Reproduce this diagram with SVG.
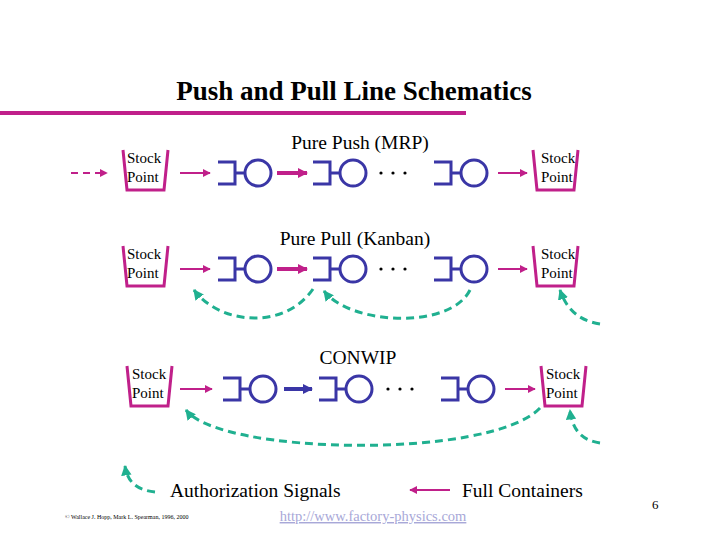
<svg xmlns="http://www.w3.org/2000/svg" width="720" height="540" viewBox="0 0 720 540">
<defs>
<marker id="am" viewBox="0 0 10 10" refX="9" refY="5" markerWidth="4" markerHeight="4" orient="auto"><path d="M0,0L10,5L0,10z" fill="#c0208a"/></marker>
<marker id="am2" viewBox="0 0 10 10" refX="9" refY="5" markerWidth="2.5" markerHeight="2.5" orient="auto"><path d="M0,0L10,5L0,10z" fill="#c0208a"/></marker>
<marker id="ab" viewBox="0 0 10 10" refX="9" refY="5" markerWidth="2.5" markerHeight="2.5" orient="auto"><path d="M0,0L10,5L0,10z" fill="#3a36a6"/></marker>
<marker id="ag" viewBox="0 0 10 10" refX="9" refY="5" markerWidth="3.5" markerHeight="3.5" orient="auto"><path d="M0,0L10,5L0,10z" fill="#20b090"/></marker>
<g id="st"><path d="M-17,-11H0V11H-17M0,0H10" fill="none" stroke="#3a36a6" stroke-width="3"/><circle cx="23" cy="0" r="13" fill="none" stroke="#3a36a6" stroke-width="3"/></g>
<path id="bk" d="M0,0L4,40H41L45,0" fill="none" stroke="#c0208a" stroke-width="3"/>
</defs>
<style>
.s{font-family:"Liberation Serif",serif;font-size:15px;fill:#000}
.t{font-family:"Liberation Serif",serif;font-size:19.5px;fill:#000}
.m{stroke:#c0208a;stroke-width:2;fill:none;marker-end:url(#am)}
.mt{stroke:#c0208a;stroke-width:4;fill:none;marker-end:url(#am2)}
.bt{stroke:#3a36a6;stroke-width:4;fill:none;marker-end:url(#ab)}
.g{stroke:#20b090;stroke-width:3;fill:none;stroke-dasharray:8,5;marker-end:url(#ag)}
.d{fill:#000}
</style>
<rect width="720" height="540" fill="#fff"/>
<text x="354" y="100" text-anchor="middle" style="font-family:'Liberation Serif',serif;font-size:27px;font-weight:bold">Push and Pull Line Schematics</text>
<line x1="0" y1="113" x2="466" y2="113" stroke="#c0208a" stroke-width="4"/>
<text class="t" x="360" y="149" text-anchor="middle">Pure Push (MRP)</text>
<text class="t" x="355" y="245" text-anchor="middle">Pure Pull (Kanban)</text>
<text class="t" x="358" y="364" text-anchor="middle">CONWIP</text>
<g id="sp1"><use href="#bk" x="123" y="150"/><text class="s" x="127" y="163">Stock</text><text class="s" x="127" y="182">Point</text></g>
<g id="sp2"><use href="#bk" x="533" y="150"/><text class="s" x="541" y="163">Stock</text><text class="s" x="541" y="182">Point</text></g>
<g id="sp3"><use href="#bk" x="123" y="246"/><text class="s" x="127" y="259">Stock</text><text class="s" x="127" y="278">Point</text></g>
<g id="sp4"><use href="#bk" x="533" y="246"/><text class="s" x="541" y="259">Stock</text><text class="s" x="541" y="278">Point</text></g>
<g id="sp5"><use href="#bk" x="127" y="366"/><text class="s" x="132" y="379">Stock</text><text class="s" x="132" y="398">Point</text></g>
<g id="sp6"><use href="#bk" x="541" y="366"/><text class="s" x="546" y="379">Stock</text><text class="s" x="546" y="398">Point</text></g>
<g id="w1"><use href="#st" x="235" y="173"/></g>
<g id="w2"><use href="#st" x="330" y="173"/></g>
<g id="w3"><use href="#st" x="451" y="173"/></g>
<g id="w4"><use href="#st" x="235" y="269"/></g>
<g id="w5"><use href="#st" x="330" y="269"/></g>
<g id="w6"><use href="#st" x="451" y="269"/></g>
<g id="w7"><use href="#st" x="240" y="389"/></g>
<g id="w8"><use href="#st" x="336" y="389"/></g>
<g id="w9"><use href="#st" x="458" y="389"/></g>
<g id="dots" class="d">
<circle cx="381" cy="173" r="1.6"/><circle cx="393" cy="173" r="1.6"/><circle cx="405" cy="173" r="1.6"/>
<circle cx="381" cy="269" r="1.6"/><circle cx="393" cy="269" r="1.6"/><circle cx="405" cy="269" r="1.6"/>
<circle cx="388" cy="389" r="1.6"/><circle cx="400" cy="389" r="1.6"/><circle cx="412" cy="389" r="1.6"/>
</g>
<g id="connectors">
<line class="m" x1="71" y1="173" x2="107" y2="173" stroke-dasharray="7,5"/>
<line class="m" x1="180" y1="173" x2="210" y2="173"/>
<line class="mt" x1="277" y1="173" x2="307" y2="173"/>
<line class="m" x1="498" y1="173" x2="527" y2="173"/>
<line class="m" x1="180" y1="269" x2="210" y2="269"/>
<line class="mt" x1="277" y1="269" x2="307" y2="269"/>
<line class="m" x1="498" y1="269" x2="527" y2="269"/>
<path class="g" d="M313,289C285,330 220,325 194,290"/>
<path class="g" d="M470,290C450,330 350,325 324,291"/>
<path class="g" d="M600,324C575,320 565,305 560,290"/>
<line class="m" x1="180" y1="389" x2="212" y2="389"/>
<line class="bt" x1="284" y1="389" x2="312" y2="389"/>
<line class="m" x1="505" y1="389" x2="535" y2="389"/>
<path class="g" d="M540,408C490,460 220,455 186,410"/>
<path class="g" d="M600,443C580,440 572,428 570,410"/>
<path class="g" d="M155,492C135,490 127,480 125,466"/>
<line class="m" x1="450" y1="490" x2="410" y2="490"/>
</g>
<text class="t" x="170" y="497">Authorization Signals</text>
<text class="t" x="462" y="497">Full Containers</text>
<text x="652" y="509" style="font-family:'Liberation Serif',serif;font-size:13px">6</text>
<text x="373" y="521" text-anchor="middle" text-decoration="underline" style="font-family:'Liberation Serif',serif;font-size:14.5px;fill:#a8a8d8">http://www.factory-physics.com</text>
<text x="65" y="519" style="font-family:'Liberation Serif',serif;font-size:6px">© Wallace J. Hopp, Mark L. Spearman, 1996, 2000</text>
</svg>
